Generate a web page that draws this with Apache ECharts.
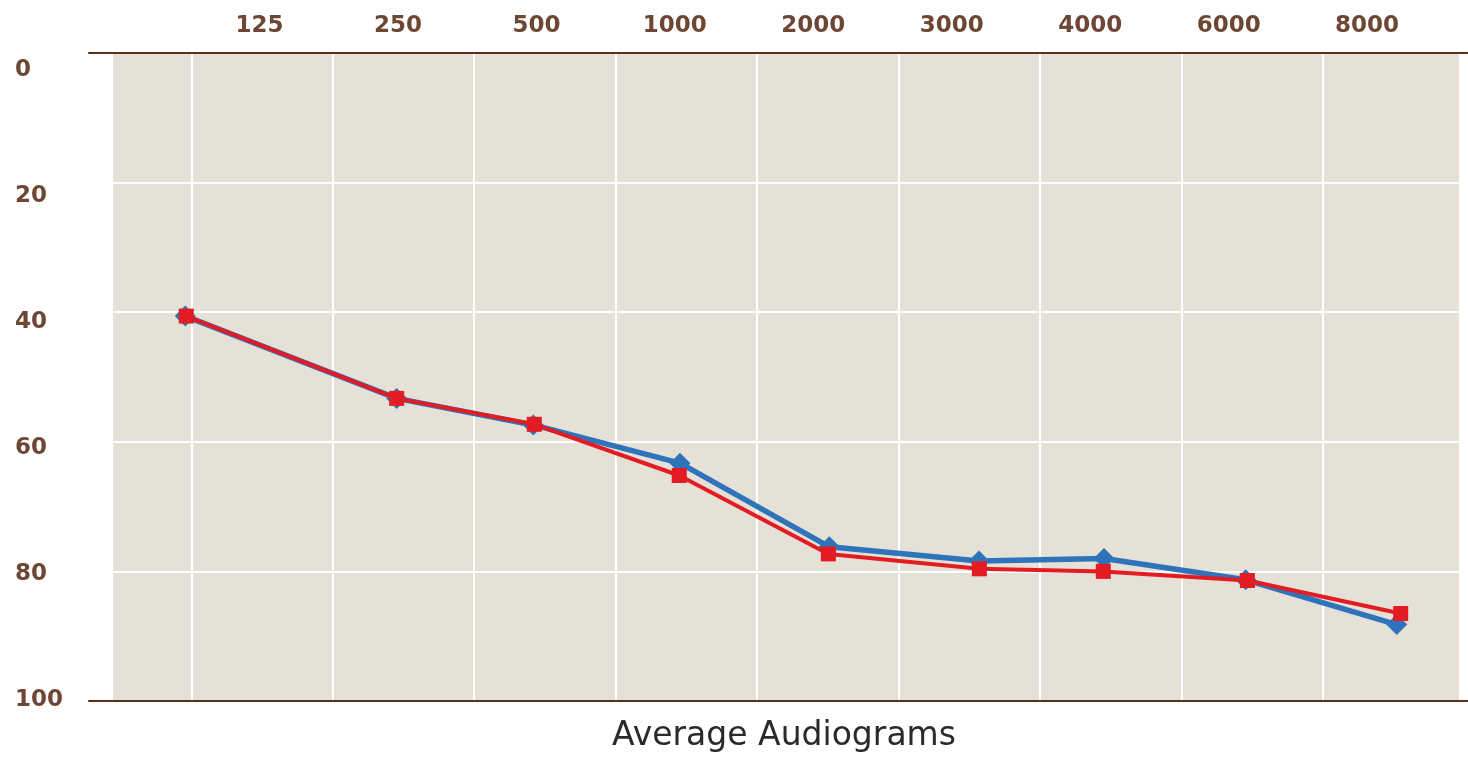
<!DOCTYPE html>
<html>
<head>
<meta charset="utf-8">
<script src="https://cdn.jsdelivr.net/npm/echarts@6/dist/echarts.min.js"></script>
<style>html,body{margin:0;padding:0;background:#fff;}#c{width:1468px;height:760px;}</style>
</head>
<body>
<div id="c"></div>
<script>
// ---- data ----
var freqLabels = ['125', '250', '500', '1000', '2000', '3000', '4000', '6000', '8000'];
var yTicks = [0, 20, 40, 60, 80, 100];
// horizontal position of each point, in units of the vertical grid columns
var blueX = [0.957, 2.452, 3.418, 4.455, 5.511, 6.569, 7.453, 8.455, 9.523];
var redX  = [0.964, 2.452, 3.425, 4.450, 5.504, 6.572, 7.448, 8.467, 9.551];
// hearing level values
var blueY = [40.6, 53.3, 57.4, 63.3, 76.2, 78.4, 78.0, 81.3, 88.2];
var redY  = [40.6, 53.3, 57.3, 65.2, 77.3, 79.6, 80.0, 81.4, 86.5];
var titleText = 'Average Audiograms';

function pairs(xs, ys) { return xs.map(function (x, i) { return [x, ys[i]]; }); }

var brown = '#6E4634';
var lineBrown = '#5A3020';
var labelFont = "'DejaVu Sans', 'Open Sans', sans-serif";
var titleFont = "'DejaVu Sans', 'Open Sans', sans-serif";

var chart = echarts.init(document.getElementById('c'), null, {renderer: 'canvas'});
var hiddenX = function (g) { return {type: 'value', gridIndex: g, show: false, min: 0, max: 10}; };
var hiddenY = function (g) { return {type: 'value', gridIndex: g, show: false, inverse: true, min: 0, max: 100}; };

chart.setOption({
  animation: false,
  backgroundColor: '#ffffff',
  title: {
    text: titleText,
    left: 779, top: 715, textAlign: 'center',
    textStyle: {fontFamily: titleFont, fontSize: 33, fontWeight: 'normal', color: '#2a2a2a'}
  },
  grid: [
    {left: 113, right: 9, top: 53, bottom: 59, show: true, backgroundColor: '#E5E1D7', borderWidth: 0},
    {left: 49.9, right: 3.8, top: 53, bottom: 59},
    {left: 89, right: 0, top: 53, bottom: 59},
    {left: 190.3, right: 31.7, top: 53, bottom: 59},
    {left: 100, right: 0, top: 70, bottom: 59.5}
  ],
  xAxis: [
    hiddenX(0),
    {type: 'value', gridIndex: 1, min: 0, max: 10, interval: 1,
      axisLine: {show: false}, axisTick: {show: false}, axisLabel: {show: false},
      splitLine: {show: true, showMinLine: false, showMaxLine: false, lineStyle: {color: '#ffffff', width: 2}}},
    {type: 'value', gridIndex: 2, position: 'top', min: 0, max: 10, z: 5,
      axisLine: {show: true, onZero: false, lineStyle: {color: lineBrown, width: 2}},
      axisTick: {show: false}, axisLabel: {show: false}, splitLine: {show: false}},
    {type: 'value', gridIndex: 2, position: 'bottom', min: 0, max: 10, z: 5,
      axisLine: {show: true, onZero: false, lineStyle: {color: lineBrown, width: 2}},
      axisTick: {show: false}, axisLabel: {show: false}, splitLine: {show: false}},
    {type: 'category', gridIndex: 3, position: 'top', data: freqLabels, boundaryGap: true,
      axisLine: {show: false}, axisTick: {show: false}, splitLine: {show: false},
      axisLabel: {show: true, margin: 15, color: brown, fontFamily: labelFont, fontSize: 23, fontWeight: 'bold'}},
    hiddenX(4)
  ],
  yAxis: [
    {type: 'value', gridIndex: 0, inverse: true, min: 0, max: 100, interval: 20,
      axisLine: {show: false}, axisTick: {show: false}, axisLabel: {show: false},
      splitLine: {show: true, lineStyle: {color: '#ffffff', width: 2}}},
    hiddenY(1),
    hiddenY(2),
    hiddenY(3),
    {type: 'value', gridIndex: 4, inverse: true, min: yTicks[0], max: yTicks[yTicks.length - 1], interval: 20,
      axisLine: {show: false}, axisTick: {show: false}, splitLine: {show: false},
      axisLabel: {show: true, align: 'left', margin: 85, color: brown, fontFamily: labelFont, fontSize: 23, fontWeight: 'bold'}}
  ],
  series: [
    {type: 'line', name: 'blue', xAxisIndex: 1, yAxisIndex: 1, data: pairs(blueX, blueY),
      symbol: 'diamond', symbolSize: 21, z: 3,
      lineStyle: {color: '#2F73BA', width: 5.5}, itemStyle: {color: '#2F73BA'}},
    {type: 'line', name: 'red', xAxisIndex: 1, yAxisIndex: 1, data: pairs(redX, redY),
      symbol: 'rect', symbolSize: 15, z: 4,
      lineStyle: {color: '#E31B23', width: 4}, itemStyle: {color: '#E31B23'}}
  ]
});
</script>
</body>
</html>
